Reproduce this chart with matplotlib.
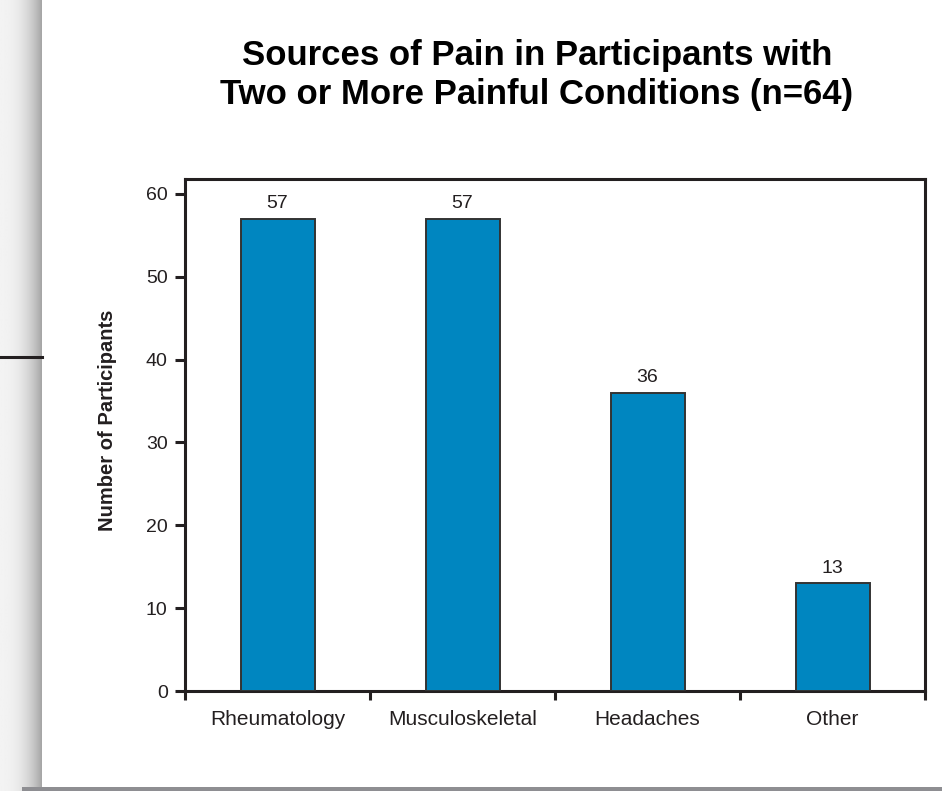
import numpy as np
import matplotlib
matplotlib.use("Agg")
import matplotlib.pyplot as plt
from matplotlib.patches import Rectangle

categories = ["Rheumatology", "Musculoskeletal", "Headaches", "Other"]
values = [57, 57, 36, 13]
yticks = [0, 10, 20, 30, 40, 50, 60]
title_lines = ["Sources of Pain in Participants with", "Two or More Painful Conditions (n=64)"]
ylabel = "Number of Participants"

plt.rcParams['font.family'] = ['Liberation Sans', 'DejaVu Sans']
W, H = 942, 791
fig = plt.figure(figsize=(W / 100, H / 100), dpi=100)
fig.patch.set_facecolor('white')

# page background with shadow
bg = fig.add_axes([0, 0, 1, 1], zorder=-10)
bg.set_xlim(0, W)
bg.set_ylim(H, 0)
bg.axis('off')
xs = np.linspace(0, 1, 60)
grad = 0.95 - 0.30 * xs ** 2.5
bg.imshow(np.tile(grad, (2, 1)), cmap='gray', vmin=0, vmax=1, extent=[0, 42, H, 0], aspect='auto', interpolation='bilinear')
bg.add_patch(Rectangle((22, 787), W - 22, 4, color='#8e8e92', lw=0))
bg.plot([0, 42], [357, 357], color='#231f20', lw=2.2)

ax = fig.add_axes([185 / W, (H - 691) / H, (925 - 185) / W, (691 - 179) / H])
x = np.arange(len(categories))
ax.bar(x, values, width=0.4, color='#0086c0', edgecolor='#333333', linewidth=1.4, zorder=3)
for xi, v in zip(x, values):
    ax.text(xi, v + 0.8, str(v), ha='center', va='bottom', fontsize=14, color='#231f20')

ax.set_xlim(-0.5, len(categories) - 0.5)
ax.set_ylim(0, 61.8)
ax.set_yticks(yticks)
ax.set_xticks(x)
ax.set_xticklabels(categories, fontsize=15, color='#231f20')
ax.set_xticks(np.arange(-0.5, len(categories), 1.0), minor=True)
ax.tick_params(axis='x', which='major', length=0, pad=14)
ax.tick_params(axis='x', which='minor', length=6.5, width=2.2, color='#231f20', direction='out')
ax.tick_params(axis='y', length=7.5, width=2.2, color='#231f20', labelsize=14, labelcolor='#231f20', pad=5)
for s in ax.spines.values():
    s.set_linewidth(2.2)
    s.set_color('#231f20')
ax.set_ylabel(ylabel, fontsize=14.5, fontweight='bold', color='#231f20')
ax.yaxis.set_label_coords(-0.092, 0.529)

for line, base in zip(title_lines, [65, 104]):
    fig.text(537 / W, 1 - base / H, line, ha='center', va='baseline', fontsize=25,
             fontweight='bold', color='#000000')

fig.savefig('out.png', dpi=100)
